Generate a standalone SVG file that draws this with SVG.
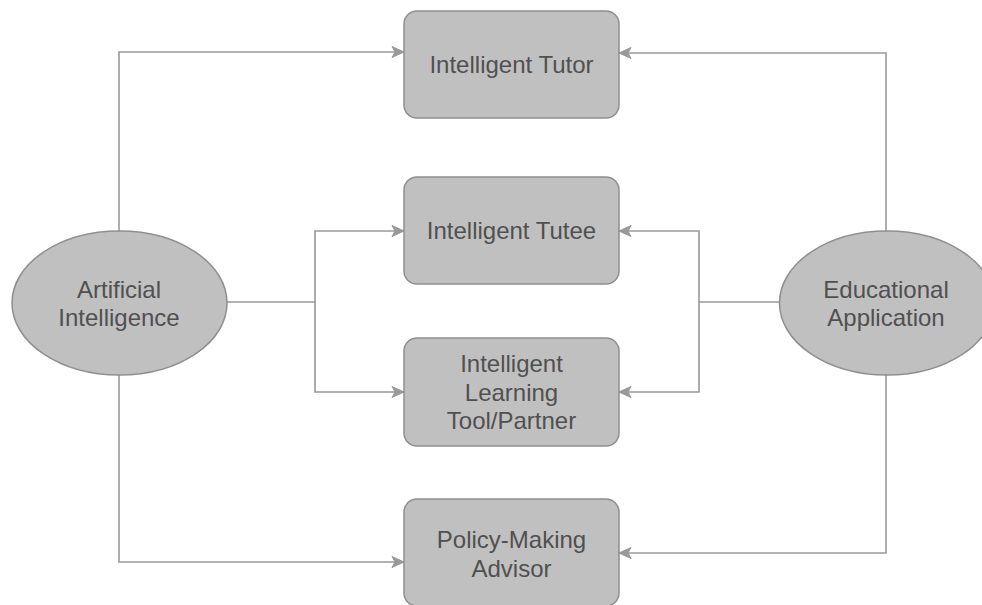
<svg xmlns="http://www.w3.org/2000/svg" width="982" height="605" viewBox="0 0 982 605">
<style>
.box{fill:#c0c0c0;stroke:#8f8f8f;stroke-width:1.5}
.lbl{font-family:"Liberation Sans",Arial,Helvetica,sans-serif;font-size:24px;fill:#505050;text-anchor:middle}
.edge{fill:none;stroke:#999999;stroke-width:1.6}
</style>
<defs>
<marker id="arr" markerUnits="userSpaceOnUse" markerWidth="14" markerHeight="14" viewBox="0 0 14 14" refX="13" refY="7" orient="auto">
<path d="M1,1.5 L13,7 L1,12.5 L4,7 Z" fill="#999999" stroke="#999999" stroke-width="1"/>
</marker>
</defs>
<rect width="982" height="605" fill="#ffffff"/>
<g id="connectors">
<path class="edge" d="M119,231 V52 H404" marker-end="url(#arr)"/>
<path class="edge" d="M119,375 V562 H404" marker-end="url(#arr)"/>
<path class="edge" d="M226,302 H315 V231 H404" marker-end="url(#arr)"/>
<path class="edge" d="M315,302 V392 H404" marker-end="url(#arr)"/>
<path class="edge" d="M886,231 V53 H619" marker-end="url(#arr)"/>
<path class="edge" d="M886,375 V553 H619" marker-end="url(#arr)"/>
<path class="edge" d="M780,302 H699 V231 H619" marker-end="url(#arr)"/>
<path class="edge" d="M699,302 V392 H619" marker-end="url(#arr)"/>
</g>
<g id="tutor">
<rect class="box" x="404" y="11" width="215" height="107" rx="13"/>
<text class="lbl" x="511.5" y="73">Intelligent Tutor</text>
</g>
<g id="tutee">
<rect class="box" x="404" y="177" width="215" height="107" rx="13"/>
<text class="lbl" x="511.5" y="239">Intelligent Tutee</text>
</g>
<g id="learning">
<rect class="box" x="404" y="338" width="215" height="108" rx="13"/>
<text class="lbl" x="511.5" y="372">Intelligent</text>
<text class="lbl" x="511.5" y="400.5">Learning</text>
<text class="lbl" x="511.5" y="429">Tool/Partner</text>
</g>
<g id="policy">
<rect class="box" x="404" y="499" width="215" height="107" rx="13"/>
<text class="lbl" x="511.5" y="548">Policy-Making</text>
<text class="lbl" x="511.5" y="577">Advisor</text>
</g>
<g id="ai">
<ellipse class="box" cx="119.5" cy="303" rx="107.5" ry="72"/>
<text class="lbl" x="119" y="298">Artificial</text>
<text class="lbl" x="119" y="326">Intelligence</text>
</g>
<g id="edu">
<ellipse class="box" cx="887" cy="303" rx="107.5" ry="72"/>
<text class="lbl" x="886" y="298">Educational</text>
<text class="lbl" x="886" y="326">Application</text>
</g>
</svg>
